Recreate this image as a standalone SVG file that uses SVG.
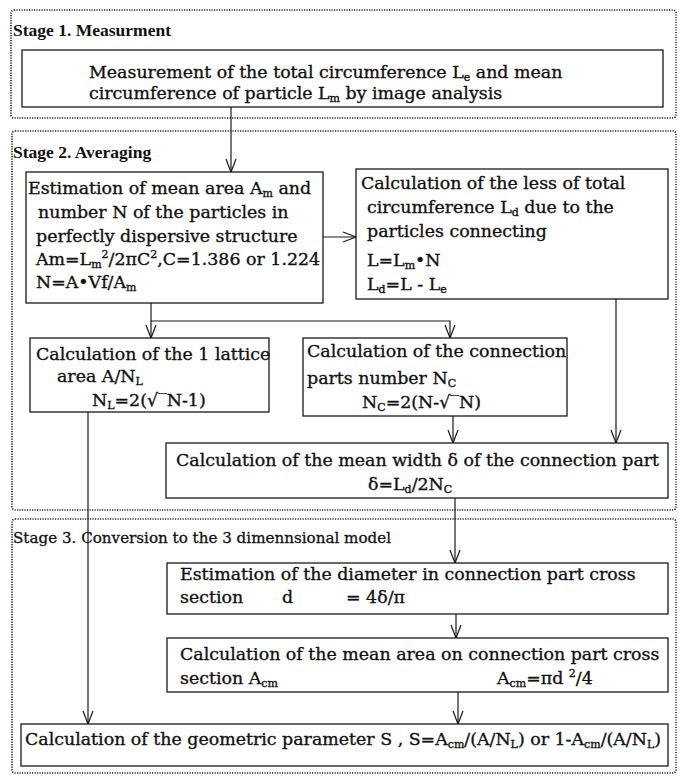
<svg xmlns="http://www.w3.org/2000/svg" width="686" height="781" viewBox="0 0 686 781">
<defs>
<style>
.stage{fill:none;stroke:#222;stroke-width:1.6;stroke-dasharray:1.2 1.3}
.box{fill:#fff;stroke:#1a1a1a;stroke-width:1.3}
.t{font-family:"DejaVu Serif","Liberation Serif",serif;font-size:17.4px;fill:#111;stroke:#111;stroke-width:0.35}
.title{font-family:"Liberation Serif",serif;font-size:17.5px;font-weight:bold;fill:#111}
.t3{font-family:"DejaVu Serif","Liberation Serif",serif;font-size:15.5px;fill:#111;stroke:#111;stroke-width:0.3}
.sb{font-size:11px}
.sp{font-size:11px}
.conn line,.conn path{stroke:#1a1a1a;stroke-width:1.2;fill:none;marker-end:url(#arr)}
</style>
<marker id="arr" markerUnits="userSpaceOnUse" markerWidth="17" markerHeight="16" viewBox="-15 -8 17 16" refX="0" refY="0" orient="auto" overflow="visible">
<path d="M-13,-5 L0,0 L-13,5" fill="none" stroke="#1a1a1a" stroke-width="1.2"/>
</marker>
</defs>
<rect width="686" height="781" fill="#fff"/>

<g id="stages">
<rect class="stage" x="11" y="10" width="665" height="108" rx="3"/>
<rect class="stage" x="12" y="131" width="664" height="379" rx="3"/>
<rect class="stage" x="12" y="519" width="664" height="254" rx="3"/>
<text class="title" x="13" y="36">Stage 1. Measurment</text>
<text class="title" x="13" y="158">Stage 2. Averaging</text>
<text class="t3" x="13" y="543" textLength="378" lengthAdjust="spacingAndGlyphs">Stage 3. Conversion to the 3 dimennsional model</text>
</g>

<g id="connectors" class="conn">
<line x1="231" y1="107" x2="231" y2="172"/>
<line x1="323" y1="237" x2="356" y2="237"/>
<line x1="151" y1="303" x2="151" y2="338"/>
<path d="M151,321 H450 V338"/>
<line x1="616" y1="299" x2="616" y2="443"/>
<line x1="453" y1="416" x2="453" y2="443"/>
<line x1="88" y1="412" x2="88" y2="724"/>
<line x1="455" y1="498" x2="455" y2="563"/>
<line x1="456" y1="614" x2="456" y2="638"/>
<line x1="458" y1="692" x2="458" y2="724"/>
</g>

<g id="measure">
<rect class="box" x="22" y="50" width="641" height="57"/>
<text class="t" x="89" y="78">Measurement of the total circumference L<tspan class="sb" dy="3">e</tspan><tspan dy="-3"> and mean</tspan></text>
<text class="t" x="89" y="99">circumference of particle L<tspan class="sb" dy="3">m</tspan><tspan dy="-3"> by image analysis</tspan></text>
</g>

<g id="mean-area">
<rect class="box" x="26" y="172" width="297" height="131"/>
<text class="t" x="28" y="194">Estimation of mean area A<tspan class="sb" dy="3">m</tspan><tspan dy="-3"> and</tspan></text>
<text class="t" x="38" y="218">number N of the particles in</text>
<text class="t" x="36" y="242">perfectly dispersive structure</text>
<text class="t" x="36" y="265">Am=L<tspan class="sb" dy="3">m</tspan><tspan class="sp" dy="-10">2</tspan><tspan dy="7">/2πC</tspan><tspan class="sp" dy="-7">2</tspan><tspan dy="7">,C=1.386 or 1.224</tspan></text>
<text class="t" x="36" y="288">N=A•Vf/A<tspan class="sb" dy="3">m</tspan></text>
</g>

<g id="circ-loss">
<rect class="box" x="356" y="169" width="312" height="130"/>
<text class="t" x="361" y="189">Calculation of the less of total</text>
<text class="t" x="367" y="213">circumference L<tspan class="sb" dy="3">d</tspan><tspan dy="-3"> due to the</tspan></text>
<text class="t" x="367" y="237">particles connecting</text>
<text class="t" x="367" y="266">L=L<tspan class="sb" dy="3">m</tspan><tspan dy="-3">•N</tspan></text>
<text class="t" x="367" y="290">L<tspan class="sb" dy="3">d</tspan><tspan dy="-3">=L - L</tspan><tspan class="sb" dy="3">e</tspan></text>
</g>

<g id="lattice">
<rect class="box" x="30" y="338" width="239" height="74"/>
<text class="t" x="36" y="360">Calculation of the 1 lattice</text>
<text class="t" x="57" y="382">area A/N<tspan class="sb" dy="3">L</tspan></text>
<text class="t" x="92" y="406">N<tspan class="sb" dy="3">L</tspan><tspan dy="-3">=2(√‾N-1)</tspan></text>
</g>

<g id="connection-number">
<rect class="box" x="303" y="338" width="264" height="78"/>
<text class="t" x="307" y="357">Calculation of the connection</text>
<text class="t" x="307" y="384">parts number N<tspan class="sb" dy="3">C</tspan></text>
<text class="t" x="362" y="408">N<tspan class="sb" dy="3">C</tspan><tspan dy="-3">=2(N-√‾N)</tspan></text>
</g>

<g id="mean-width">
<rect class="box" x="166" y="443" width="502" height="55"/>
<text class="t" x="176" y="466">Calculation of the mean width δ of the connection part</text>
<text class="t" x="368" y="490">δ=L<tspan class="sb" dy="3">d</tspan><tspan dy="-3">/2N</tspan><tspan class="sb" dy="3">C</tspan></text>
</g>

<g id="diameter">
<rect class="box" x="167" y="563" width="501" height="51"/>
<text class="t" x="180" y="580">Estimation of the diameter in connection part cross</text>
<text class="t" x="180" y="603">section</text>
<text class="t" x="282" y="603">d</text>
<text class="t" x="346" y="603">= 4δ/π</text>
</g>

<g id="cross-area">
<rect class="box" x="167" y="638" width="501" height="54"/>
<text class="t" x="180" y="660">Calculation of the mean area on connection part cross</text>
<text class="t" x="180" y="684">section A<tspan class="sb" dy="3">cm</tspan></text>
<text class="t" x="497" y="684">A<tspan class="sb" dy="3">cm</tspan><tspan dy="-3">=πd </tspan><tspan class="sp" dy="-7">2</tspan><tspan dy="7">/4</tspan></text>
</g>

<g id="geometric">
<rect class="box" x="21" y="724" width="647" height="42"/>
<text class="t" x="25" y="745">Calculation of the geometric parameter S , S=A<tspan class="sb" dy="3">cm</tspan><tspan dy="-3">/(A/N</tspan><tspan class="sb" dy="3">L</tspan><tspan dy="-3">) or 1-A</tspan><tspan class="sb" dy="3">cm</tspan><tspan dy="-3">/(A/N</tspan><tspan class="sb" dy="3">L</tspan><tspan dy="-3">)</tspan></text>
</g>
</svg>
